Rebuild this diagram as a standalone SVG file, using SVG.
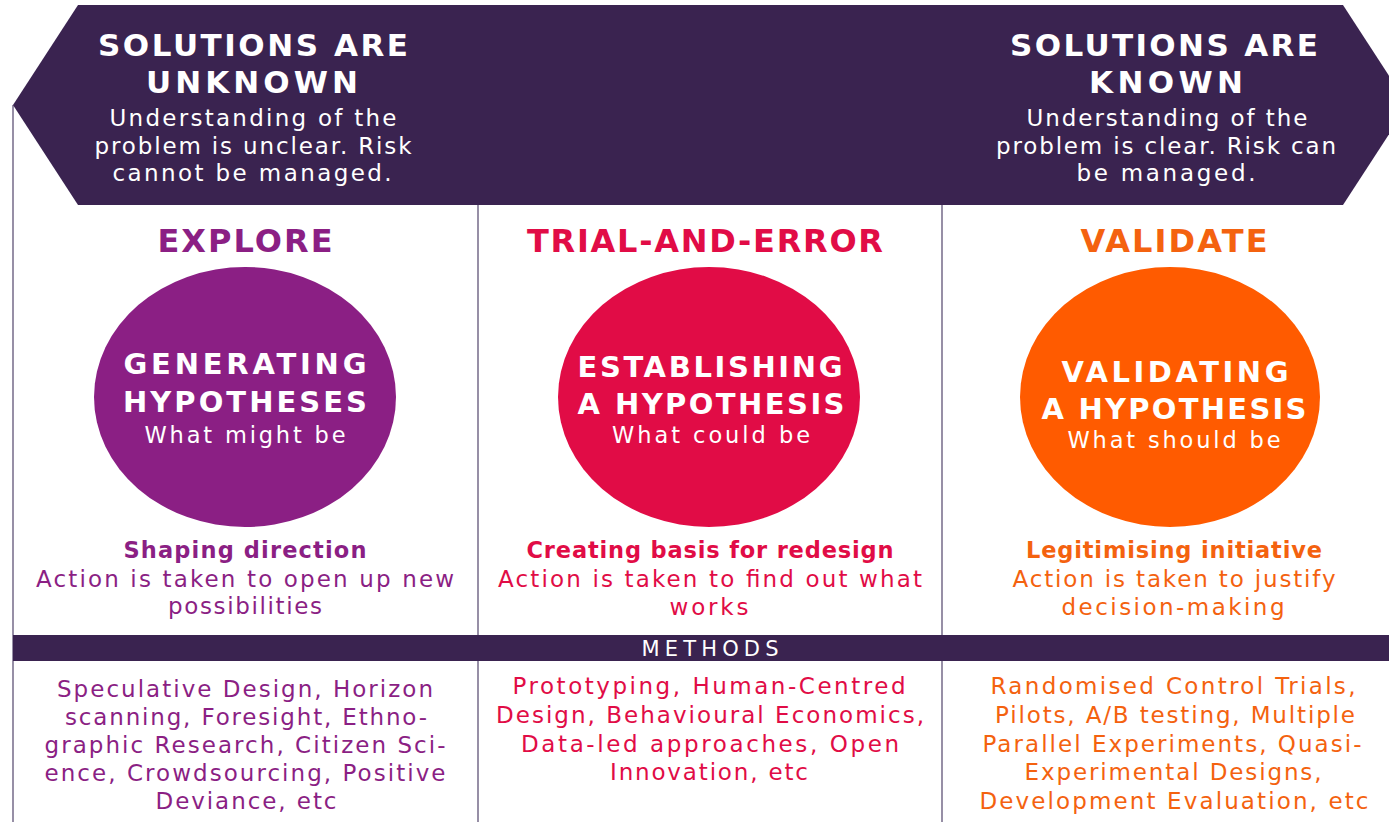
<svg xmlns="http://www.w3.org/2000/svg" width="1389" height="822" viewBox="0 0 1389 822">
  <style>
    text { font-family: "DejaVu Sans", "Noto Sans", "Liberation Sans", sans-serif; text-anchor: middle; }
    .band { fill: #3a2350; }
    .rule { stroke: #7d7390; stroke-width: 1.6; fill: none; }
    .ban-t { font-size: 31px; font-weight: 700; fill: #ffffff; }
    .ban-s { font-size: 23px; font-weight: 400; fill: #ffffff; }
    .head { font-size: 32px; font-weight: 700; }
    .c-t { font-size: 29px; font-weight: 700; fill: #ffffff; }
    .c-s { font-size: 22.5px; font-weight: 400; fill: #ffffff; }
    .lbl { font-size: 22.5px; font-weight: 700; }
    .txt { font-size: 23px; font-weight: 400; }
    .purple { fill: #8b1f84; }
    .crimson { fill: #e10c46; }
    .orange { fill: #f4620f; }
  </style>

  <rect width="1389" height="822" fill="#ffffff"/>

  <!-- column rules -->
  <g id="dividers">
    <line class="rule" x1="13" y1="105" x2="13" y2="822"/>
    <line class="rule" x1="478" y1="205" x2="478" y2="822"/>
    <line class="rule" x1="942" y1="205" x2="942" y2="822"/>
  </g>

  <!-- double-headed banner: unknown to known -->
  <g id="banner">
    <polygon class="band" points="78,5 1343,5 1408,105 1343,205 78,205 13,105"/>
    <g id="banner-unknown">
      <text class="ban-t" x="253" y="56" textLength="310">SOLUTIONS ARE</text>
      <text class="ban-t" x="252" y="93" textLength="212">UNKNOWN</text>
      <text class="ban-s" x="253" y="126" textLength="287">Understanding of the</text>
      <text class="ban-s" x="253" y="154" textLength="317">problem is unclear. Risk</text>
      <text class="ban-s" x="252" y="181" textLength="279">cannot be managed.</text>
    </g>
    <g id="banner-known">
      <text class="ban-t" x="1164" y="56" textLength="308">SOLUTIONS ARE</text>
      <text class="ban-t" x="1166" y="93" textLength="154">KNOWN</text>
      <text class="ban-s" x="1167" y="126" textLength="281">Understanding of the</text>
      <text class="ban-s" x="1166" y="154" textLength="340">problem is clear. Risk can</text>
      <text class="ban-s" x="1166" y="181" textLength="179">be managed.</text>
    </g>
  </g>

  <!-- column 1: explore -->
  <g id="explore">
    <text class="head purple" x="245" y="252" textLength="175">EXPLORE</text>
    <ellipse cx="245" cy="397" rx="151" ry="130" fill="#8b1f84"/>
    <text class="c-t" x="245" y="374" textLength="243">GENERATING</text>
    <text class="c-t" x="245" y="412" textLength="244">HYPOTHESES</text>
    <text class="c-s" x="245" y="443" textLength="201">What might be</text>
    <text class="lbl purple" x="245" y="558" textLength="243">Shaping direction</text>
    <text class="txt purple" x="245" y="587" textLength="418">Action is taken to open up new</text>
    <text class="txt purple" x="245" y="614" textLength="154">possibilities</text>
  </g>

  <!-- column 2: trial and error -->
  <g id="trial-and-error">
    <text class="head crimson" x="705" y="252" textLength="356">TRIAL-AND-ERROR</text>
    <ellipse cx="709" cy="397" rx="151" ry="130" fill="#e10c46"/>
    <text class="c-t" x="710" y="377" textLength="265">ESTABLISHING</text>
    <text class="c-t" x="711" y="414" textLength="267">A HYPOTHESIS</text>
    <text class="c-s" x="711" y="443" textLength="198">What could be</text>
    <text class="lbl crimson" x="710" y="558" textLength="367">Creating basis for redesign</text>
    <text class="txt crimson" x="710" y="587" textLength="424">Action is taken to find out what</text>
    <text class="txt crimson" x="709" y="615" textLength="79">works</text>
  </g>

  <!-- column 3: validate -->
  <g id="validate">
    <text class="head orange" x="1174" y="252" textLength="187">VALIDATE</text>
    <ellipse cx="1170" cy="397" rx="150" ry="130" fill="#ff5b00"/>
    <text class="c-t" x="1175" y="382" textLength="227">VALIDATING</text>
    <text class="c-t" x="1174" y="419" textLength="265">A HYPOTHESIS</text>
    <text class="c-s" x="1174" y="448" textLength="213">What should be</text>
    <text class="lbl orange" x="1174" y="558" textLength="296">Legitimising initiative</text>
    <text class="txt orange" x="1174" y="587" textLength="323">Action is taken to justify</text>
    <text class="txt orange" x="1173" y="615" textLength="223">decision-making</text>
  </g>

  <!-- methods band and lists -->
  <g id="methods">
    <rect class="band" x="13" y="635" width="1376" height="26"/>
    <text x="710" y="656" font-size="21" fill="#ffffff" textLength="137">METHODS</text>
  </g>

  <g id="methods-explore">
    <text class="txt purple" x="245" y="697" textLength="376">Speculative Design, Horizon</text>
    <text class="txt purple" x="246" y="725" textLength="362">scanning, Foresight, Ethno-</text>
    <text class="txt purple" x="245" y="753" textLength="401">graphic Research, Citizen Sci-</text>
    <text class="txt purple" x="245" y="781" textLength="401">ence, Crowdsourcing, Positive</text>
    <text class="txt purple" x="246" y="809" textLength="181">Deviance, etc</text>
  </g>

  <g id="methods-trial">
    <text class="txt crimson" x="709" y="694" textLength="393">Prototyping, Human-Centred</text>
    <text class="txt crimson" x="710" y="723" textLength="428">Design, Behavioural Economics,</text>
    <text class="txt crimson" x="710" y="752" textLength="378">Data-led approaches, Open</text>
    <text class="txt crimson" x="709" y="780" textLength="198">Innovation, etc</text>
  </g>

  <g id="methods-validate">
    <text class="txt orange" x="1173" y="694" textLength="365">Randomised Control Trials,</text>
    <text class="txt orange" x="1175" y="723" textLength="360">Pilots, A/B testing, Multiple</text>
    <text class="txt orange" x="1172" y="752" textLength="379">Parallel Experiments, Quasi-</text>
    <text class="txt orange" x="1173" y="780" textLength="297">Experimental Designs,</text>
    <text class="txt orange" x="1174" y="809" textLength="389">Development Evaluation, etc</text>
  </g>
</svg>
